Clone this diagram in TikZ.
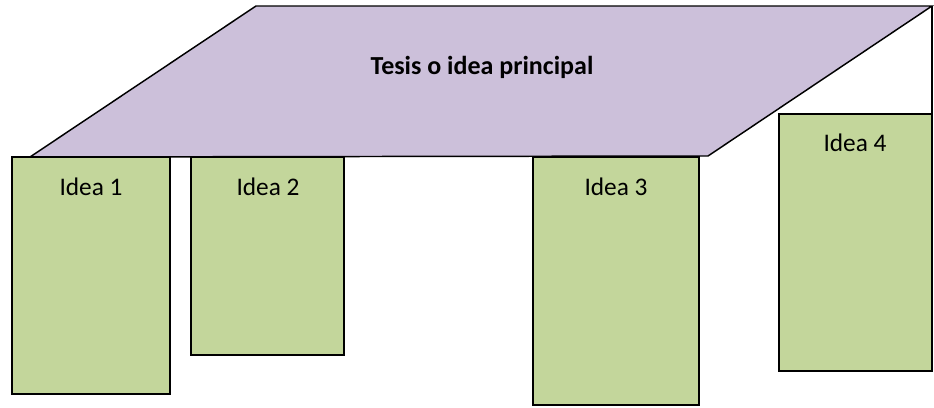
\documentclass[tikz,border=0pt]{standalone}
\usepackage{fontspec}
\setmainfont{Carlito}
\definecolor{tablecolor}{HTML}{CCC0DA}
\definecolor{ideacolor}{HTML}{C3D69B}
\tikzset{
  tabletop/.style={fill=tablecolor, draw=black, line width=1.1pt, line join=miter},
  ideabox/.style={fill=ideacolor, draw=black, line width=1.5pt},
  idealabel/.style={font=\fontsize{19}{22}\selectfont, inner sep=0pt}
}
\begin{document}
\begin{tikzpicture}[x=0.75pt, y=-0.75pt]
  \useasboundingbox (0,0) rectangle (934,407);
  % tabla
  \draw[tabletop] (256,6) -- (932,6) -- (708,156) -- (30,157) -- cycle;
  \draw[black, line width=1.1pt] (932,6) -- (932,114);
  \node[idealabel, font=\fontsize{19.5}{22}\selectfont\bfseries] (tesis) at (482,67) {Tesis o idea principal};
  % patas
  \draw[ideabox] (12,157) rectangle (170,394);
  \draw[ideabox] (191,157) rectangle (344,355);
  \draw[ideabox] (533,157) rectangle (699,405);
  \draw[ideabox] (779,114) rectangle (932,371);
  \node[idealabel] (idea1) at (91,187) {Idea 1};
  \node[idealabel] (idea2) at (268,187) {Idea 2};
  \node[idealabel] (idea3) at (616,187) {Idea 3};
  \node[idealabel] (idea4) at (855,143) {Idea 4};
\end{tikzpicture}
\end{document}
